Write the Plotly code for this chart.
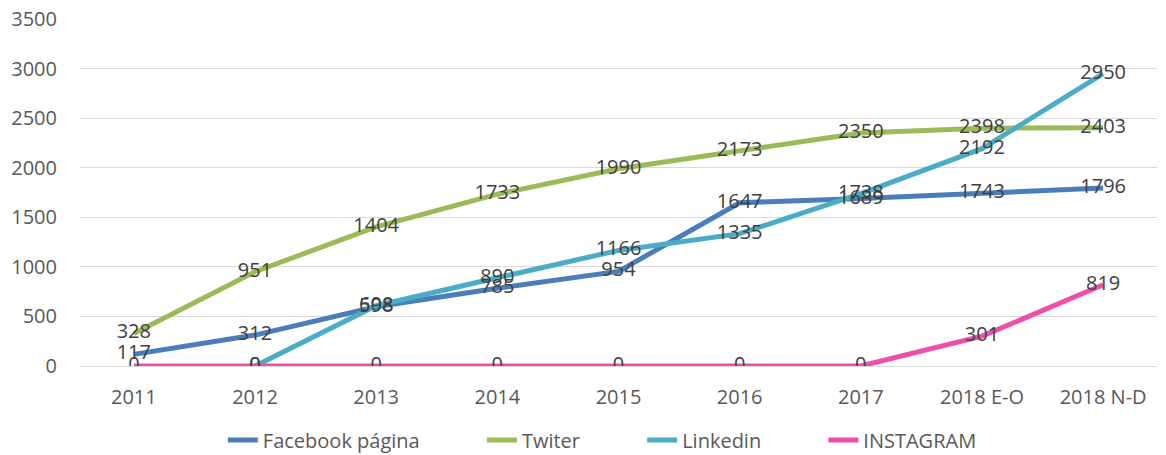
import plotly.graph_objects as go

categories = ["2011", "2012", "2013", "2014", "2015", "2016", "2017", "2018 E-O", "2018 N-D"]
facebook = [117, 312, 598, 785, 954, 1647, 1689, 1743, 1796]
twitter = [328, 951, 1404, 1733, 1990, 2173, 2350, 2398, 2403]
linkedin = [None, 0, 608, 890, 1166, 1335, 1738, 2192, 2950]
instagram = [0, 0, 0, 0, 0, 0, 0, 301, 819]

series = [
    ("Facebook página", facebook, "#4a7ebb"),
    ("Twiter", twitter, "#9bbb59"),
    ("Linkedin", linkedin, "#4bacc6"),
    ("INSTAGRAM", instagram, "#ee4fa8"),
]

font_family = "Open Sans, Liberation Sans, sans-serif"
fig = go.Figure()
for i, (name, vals, color) in enumerate(series):
    pad = "\u00a0" * 11 if i < len(series) - 1 else ""
    fig.add_trace(go.Scatter(x=categories, y=vals, name=name + pad, mode="lines",
                             line=dict(color=color, width=5), connectgaps=False))
for name, vals, color in series:
    txt = ["" if v is None else str(v) for v in vals]
    fig.add_trace(go.Scatter(x=categories, y=vals, mode="text", text=txt,
                             textposition="middle center", showlegend=False,
                             textfont=dict(size=20, color="#404040", family=font_family),
                             hoverinfo="skip"))

fig.update_layout(
    width=1158, height=447,
    margin=dict(l=72, r=9, t=11, b=89, autoexpand=False),
    plot_bgcolor="white", paper_bgcolor="white",
    font=dict(family=font_family, color="#595959", size=20),
    showlegend=True,
    legend=dict(orientation="h", x=0.485, xanchor="center", y=-0.213, yanchor="middle",
                font=dict(size=20, color="#595959"), traceorder="normal"),
    xaxis=dict(type="category", showgrid=False, showline=False, ticks="",
               tickfont=dict(size=20, color="#595959"), ticklabeloverflow="allow"),
    yaxis=dict(range=[0, 3500], dtick=500, showgrid=True, gridcolor="#d9d9d9",
               gridwidth=1, zeroline=True, zerolinecolor="#d9d9d9", zerolinewidth=1,
               showline=False, ticks="", ticklen=0, ticklabeloverflow="allow",
               tickfont=dict(size=20, color="#595959")),
)
fig.update_yaxes(ticklabelstandoff=22)
fig.update_xaxes(ticklabelstandoff=17)
fig.write_html("out.html")
